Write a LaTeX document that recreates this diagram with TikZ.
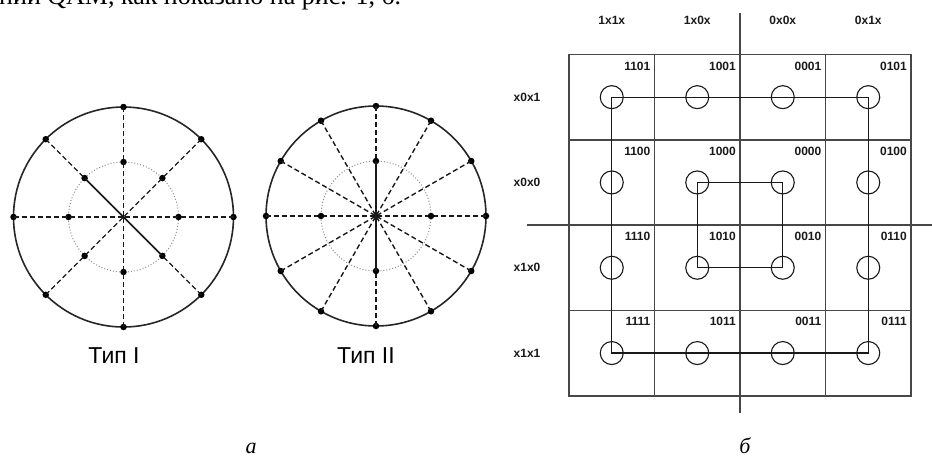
\documentclass[tikz,border=0pt]{standalone}
\usepackage{fontspec}
\setmainfont{Liberation Serif}
\setsansfont{Liberation Sans}
\begin{document}
\begin{tikzpicture}[x=1pt,y=-1pt,
  dot/.style={circle,fill=black,inner sep=0pt,minimum size=6.5pt},
  spoke/.style={dash pattern=on 5pt off 3pt,line width=1.4pt,draw=black!90},
  solidspoke/.style={line width=1.5pt,draw=black!90},
  ring/.style={line width=1.6pt,draw=black!85},
  inring/.style={draw=black!45,dotted,line width=1pt},
  gridl/.style={line width=1.6pt,draw=black!72},
  qam/.style={circle,draw=black!90,minimum size=23pt,inner sep=0pt,line width=1.1pt},
  link/.style={line width=1.2pt,draw=black!90},
  small/.style={font=\sffamily\bfseries\fontsize{12}{12}\selectfont,inner sep=0pt,text=black!90},
  typelbl/.style={font=\sffamily\fontsize{23}{23}\selectfont,inner sep=0pt},
  sublbl/.style={font=\itshape\fontsize{22}{22}\selectfont,inner sep=0pt,anchor=base}
]
\useasboundingbox (0,0) rectangle (932,456);

% cut-off top line of text
\begin{scope}
\clip (0,0) rectangle (932,12);
\node[anchor=base west,inner sep=0pt,font=\fontsize{26}{26}\selectfont] (toptext) at (-1,4) {нии QAM, как показано на рис. 1, б.};
\end{scope}

% ---------- Type I ----------
\coordinate (o1) at (123.5,217);
\draw[ring] (o1) circle[radius=110];
\draw[inring] (o1) circle[radius=55];
\foreach \a in {0,45,...,315}{
  \path (o1) ++(\a:110) node[dot] (aout\a) {};
  \path (o1) ++(\a:55) node[dot] (ain\a) {};
  \draw[spoke] (aout\a.center) -- (o1);
}
\draw[solidspoke] (ain225.center) -- (ain45.center);
\node[typelbl] (t1) at (114,356) {Тип I};

% ---------- Type II ----------
\coordinate (o2) at (376,216);
\draw[ring] (o2) circle[radius=110];
\draw[inring] (o2) circle[radius=55];
\foreach \a in {0,30,...,330}{
  \path (o2) ++(\a:110) node[dot] (bout\a) {};
  \draw[spoke] (bout\a.center) -- (o2);
}
\foreach \a in {0,90,180,270}{
  \path (o2) ++(\a:55) node[dot] (bin\a) {};
}
\draw[solidspoke] (bin90.center) -- (bin270.center);
\node[typelbl] (t2) at (366,356) {Тип II};

% ---------- QAM grid ----------
\draw[gridl] (569,54.5) rectangle (911,395.7);
\foreach \x in {654.5,740,825.5}{
  \draw[gridl] (\x,54.5) -- (\x,395.7);
}
\foreach \y in {139.8,225.1,310.4}{
  \draw[gridl] (569,\y) -- (911,\y);
}
% axes
\draw[gridl] (740,13) -- (740,413);
\draw[gridl] (527,225.1) -- (932,225.1);

% column and row labels
\foreach \t/\x in {1x1x/611.75,1x0x/697.25,0x0x/782.75,0x1x/868.25}{
  \node[small] (col\t) at (\x,20) {\t};
}
\foreach \t/\y in {x0x1/97.15,x0x0/182.45,x1x0/267.75,x1x1/353.05}{
  \node[small] (row\t) at (527,\y) {\t};
}

% points
\foreach \c/\i/\j in {1101/0/0,1001/1/0,0001/2/0,0101/3/0,
                      1100/0/1,1000/1/1,0000/2/1,0100/3/1,
                      1110/0/2,1010/1/2,0010/2/2,0110/3/2,
                      1111/0/3,1011/1/3,0011/2/3,0111/3/3}{
  \node[qam] (q\c) at ({611.75+85.5*\i},{97.15+85.3*\j}) {};
  \node[small,anchor=north east] (l\c) at ({650.5+85.5*\i},{61.5+85.3*\j}) {\c};
}
\draw[link] (q1101.center) -- (q0101.center) -- (q0111.center) -- (q1111.center) -- cycle;
\draw[link] (q1000.center) -- (q0000.center) -- (q0010.center) -- (q1010.center) -- cycle;

% sub-captions
\node[sublbl] (capa) at (251,453) {а};
\node[sublbl] (capb) at (745,453) {б};
\end{tikzpicture}
\end{document}
